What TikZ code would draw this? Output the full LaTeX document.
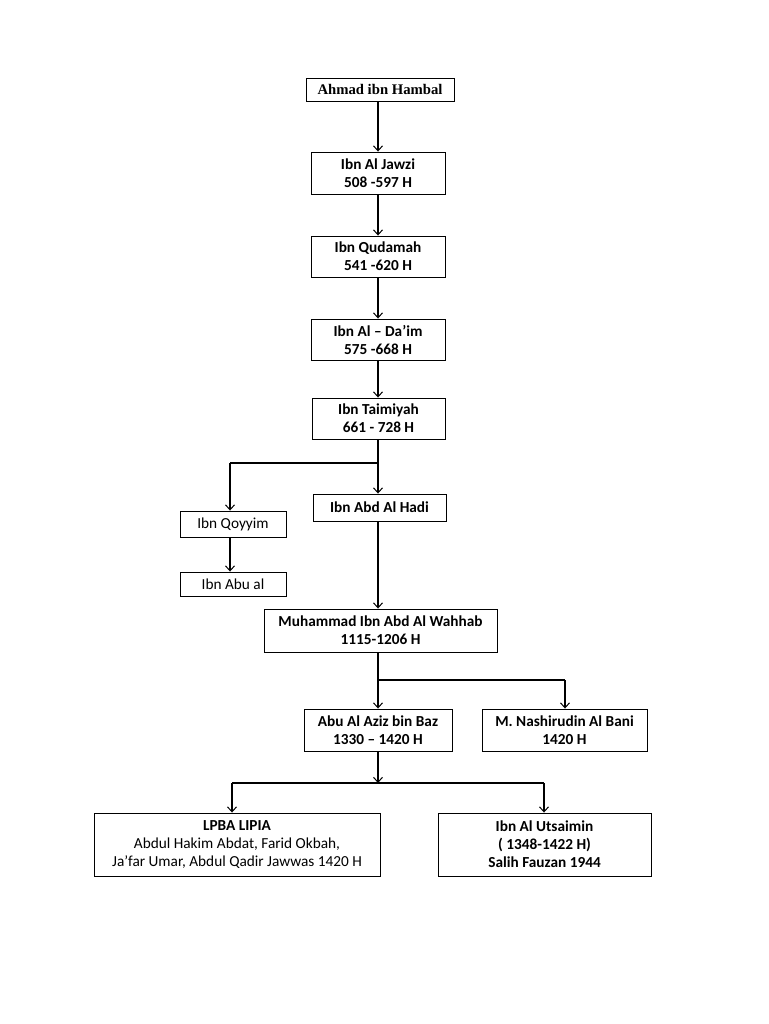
\documentclass[tikz,border=0pt]{standalone}
\usepackage{fontspec}
\setmainfont{Carlito}
\newfontfamily\serifbold{Liberation Serif}
\usetikzlibrary{arrows.meta}
\begin{document}
\begin{tikzpicture}[x=1pt,y=-1pt,
  box/.style={draw,line width=0.9pt,inner sep=0pt,align=center,font=\fontsize{15.3}{18}\selectfont\bfseries},
  plainbox/.style={box,font=\fontsize{15.3}{18}\selectfont},
  arr/.style={line width=1.1pt,-{Straight Barb[length=5pt,width=9pt,line width=1pt]}},
  ln/.style={line width=1.1pt}]
\useasboundingbox (0,0) rectangle (768,1024);
\fill[white] (0,0) rectangle (768,1024);

\node[box,minimum width=148pt,minimum height=23pt,font=\fontsize{14.7}{17}\selectfont\serifbold\bfseries] (ahmad) at (380,89.5) {Ahmad ibn Hambal};
\node[box,minimum width=134pt,minimum height=42pt] (jawzi) at (378,173) {Ibn Al Jawzi\\508 -597 H};
\node[box,minimum width=134pt,minimum height=41pt] (qudamah) at (378,256.5) {Ibn Qudamah\\541 -620 H};
\node[box,minimum width=134pt,minimum height=41pt] (daim) at (378,339.5) {Ibn Al -- Da’im\\575 -668 H};
\node[box,minimum width=133pt,minimum height=41pt] (taimiyah) at (378.5,418.5) {Ibn Taimiyah\\661 - 728 H};
\node[box,minimum width=133pt,minimum height=27pt] (hadi) at (379.5,507.5) {Ibn Abd Al Hadi};
\node[plainbox,minimum width=106pt,minimum height=26pt] (qoyyim) at (233,524) {Ibn Qoyyim};
\node[plainbox,minimum width=106pt,minimum height=24pt] (abual) at (233,584) {Ibn Abu al};
\node[box,minimum width=233pt,minimum height=43pt] (wahhab) at (380.5,630.5) {Muhammad Ibn Abd Al Wahhab\\1115-1206 H};
\node[box,minimum width=148pt,minimum height=42pt] (baz) at (378,730) {Abu Al Aziz bin Baz\\1330 -- 1420 H};
\node[box,minimum width=165pt,minimum height=42pt] (bani) at (564.5,730) {M. Nashirudin Al Bani\\1420 H};
\node[plainbox,minimum width=286pt,minimum height=63pt] (lpba) at (237,844.5) {\textbf{LPBA LIPIA}\\Abdul Hakim Abdat, Farid Okbah,\\Ja’far Umar, Abdul Qadir Jawwas 1420 H};
\node[box,minimum width=213pt,minimum height=63pt] (uts) at (544.5,844.5) {Ibn Al Utsaimin\\( 1348-1422 H)\\Salih Fauzan 1944};

\coordinate (j1) at (378,463);
\coordinate (j1l) at (230,463);
\coordinate (j2) at (378,680);
\coordinate (j2r) at (565,680);
\coordinate (j3) at (378,783);
\coordinate (j3l) at (232,783);
\coordinate (j3r) at (544,783);

\draw[arr] (ahmad.south -| jawzi.north) -- (jawzi.north);
\draw[arr] (jawzi) -- (qudamah);
\draw[arr] (qudamah) -- (daim);
\draw[arr] (daim) -- (taimiyah.north -| daim.south);
\draw[ln] (taimiyah.south -| j1) -- (j1);
\draw[arr] (j1) -- (j1 |- hadi.north);
\draw[ln] (j1) -- (j1l);
\draw[arr] (j1l) -- (j1l |- qoyyim.north);
\draw[arr] (j1l |- qoyyim.south) -- (j1l |- abual.north);
\draw[arr] (hadi.south -| j1) -- (j1 |- wahhab.north);
\draw[ln] (wahhab.south -| j2) -- (j2);
\draw[arr] (j2) -- (baz.north);
\draw[ln] (j2) -- (j2r);
\draw[arr] (j2r) -- (j2r |- bani.north);
\draw[arr] (baz.south) -- (j3);
\draw[line width=2pt] (j3l) -- (j3r);
\draw[arr] (j3l) -- (j3l |- lpba.north);
\draw[arr] (j3r) -- (j3r |- uts.north);
\end{tikzpicture}
\end{document}
